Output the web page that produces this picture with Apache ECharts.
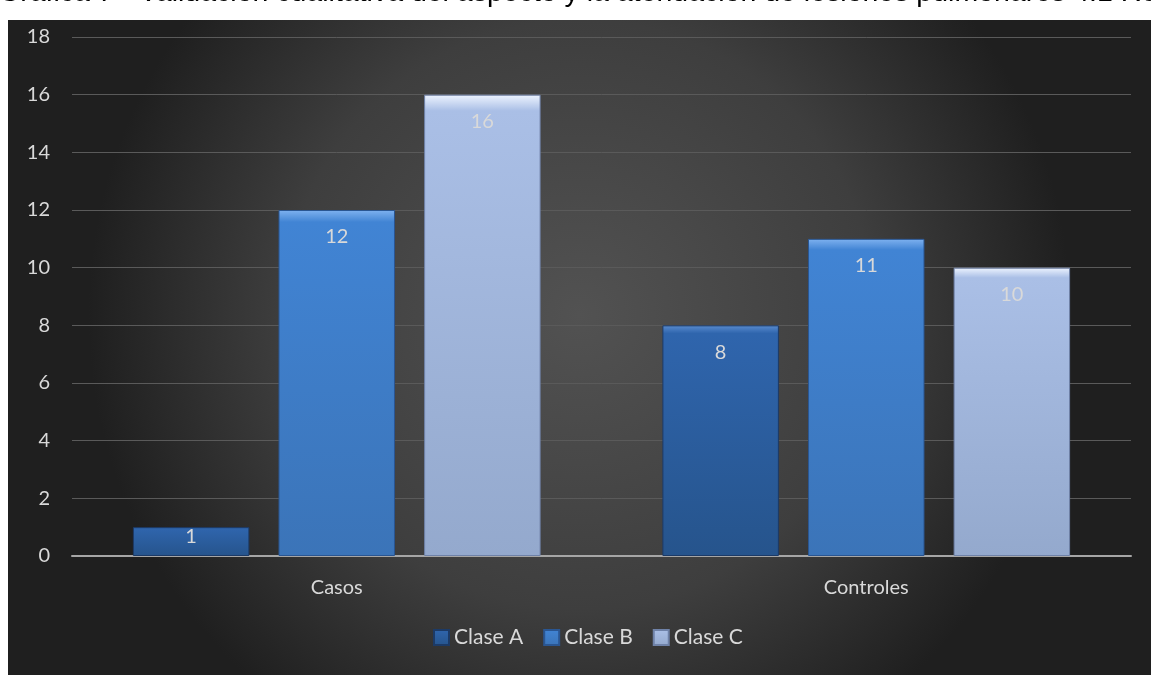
<!DOCTYPE html>
<html><head><meta charset="utf-8">
<script src="https://cdn.jsdelivr.net/npm/echarts@6/dist/echarts.min.js"></script>
<style>html,body{margin:0;padding:0;background:#fff;}#c{width:1151px;height:675px;}</style>
</head><body><div id="c"></div>
<script>
const categories = ['Casos', 'Controles'];
const seriesNames = ['Clase A', 'Clase B', 'Clase C'];
const claseA = [1, 8];
const claseB = [12, 11];
const claseC = [16, 10];
const yTicks = [0, 2, 4, 6, 8, 10, 12, 14, 16, 18];
const titleText = 'Gráfica 7 - Validación cualitativa del aspecto y la atenuación de lesiones pulmonares 4.1 Re';

const FONT = 'Lato, "Open Sans", sans-serif';
const chart = echarts.init(document.getElementById('c'));
function grad(top, mid, bot) {
  return new echarts.graphic.LinearGradient(0, 0, 0, 1, [
    {offset: 0, color: top}, {offset: 0.035, color: mid}, {offset: 1, color: bot}
  ]);
}
const styles = [
  {color: grad('#5a8ccf', '#2f65ad', '#26548c'), border: '#1c3a66'},
  {color: grad('#7fb2f0', '#4184d4', '#3b74b8'), border: '#2a5692'},
  {color: grad('#eef4ff', '#aabfe6', '#94a9cd'), border: '#6f82a8'}
];
const data = [claseA, claseB, claseC];
chart.setOption({
  animation: false,
  graphic: [
    {type: 'rect', left: 8, top: 20, shape: {width: 1143, height: 655}, z: -10,
     style: {fill: new echarts.graphic.RadialGradient(0.5, 0.45, 0.75, [
       {offset: 0, color: '#525252'}, {offset: 0.6, color: '#3e3e3e'}, {offset: 1, color: '#1f1f1f'}])}},
    {type: 'text', left: -2, top: -21, z: -20,
     style: {text: titleText, fill: '#000', font: '28.5px "Liberation Sans", Arial, sans-serif'}}
  ],
  grid: {left: 72, right: 20, top: 37, bottom: 119, containLabel: false},
  legend: {
    bottom: 22, left: 428, itemWidth: 15, itemHeight: 15, itemGap: 20,
    icon: 'rect',
    textStyle: {color: '#d9d9d9', fontSize: 21, fontFamily: FONT},
    data: seriesNames
  },
  xAxis: {
    type: 'category', data: categories,
    axisLine: {lineStyle: {color: '#a6a6a6', width: 2}},
    axisTick: {show: false},
    axisLabel: {color: '#d9d9d9', fontSize: 20, margin: 22, fontFamily: FONT}
  },
  yAxis: {
    type: 'value', min: yTicks[0], max: yTicks[yTicks.length - 1], interval: 2,
    axisLine: {show: false}, axisTick: {show: false},
    splitLine: {lineStyle: {color: '#5a5a5a', width: 1}},
    axisLabel: {color: '#d9d9d9', fontSize: 20, margin: 22, fontFamily: FONT}
  },
  series: seriesNames.map((n, i) => ({
    name: n, type: 'bar',
    data: data[i].map(v => v < 2 ? {value: v, label: {distance: -1}} : v),
    barWidth: '22%', barGap: '25%',
    itemStyle: {color: styles[i].color, borderColor: styles[i].border, borderWidth: 1},
    label: {show: true, position: 'insideTop', distance: 17, color: '#d9d9d9', fontSize: 20,
            fontFamily: FONT}
  }))
});
</script></body></html>
